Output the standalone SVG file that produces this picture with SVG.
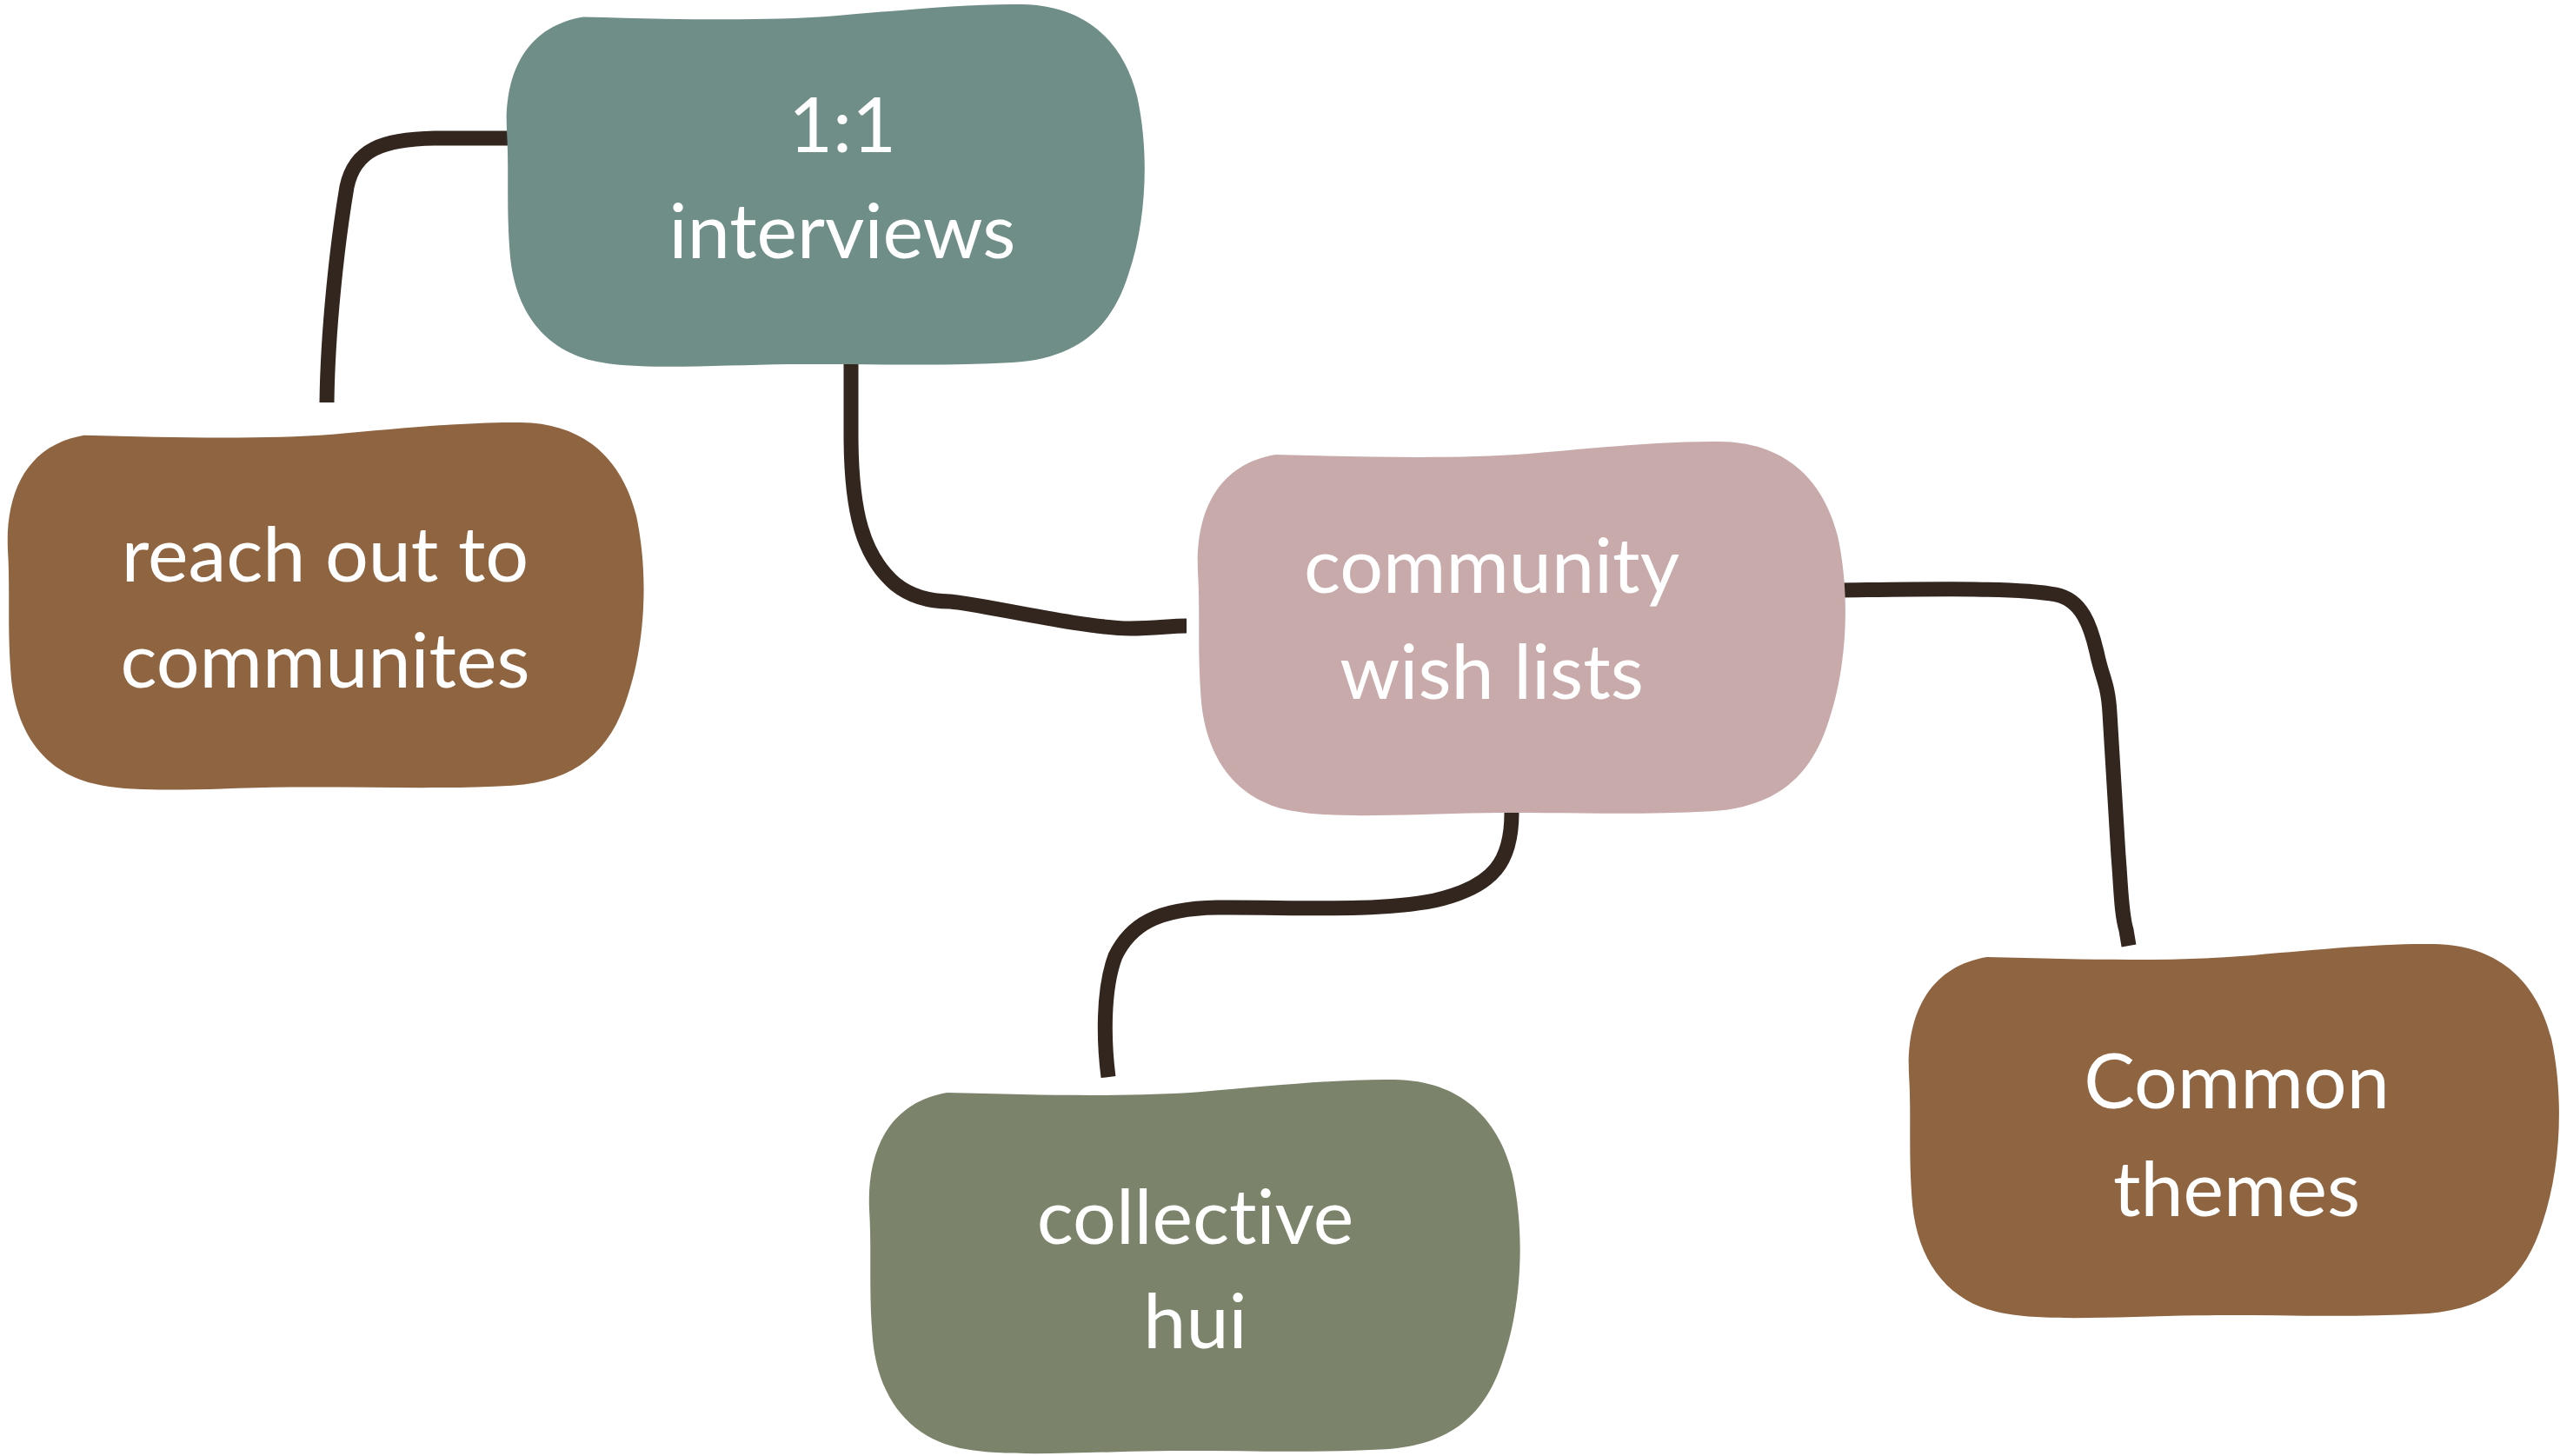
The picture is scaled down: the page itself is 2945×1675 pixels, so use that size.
<svg xmlns="http://www.w3.org/2000/svg" xmlns:xlink="http://www.w3.org/1999/xlink" width="2945" height="1675" viewBox="0 0 2945 1675">
<style>
.conn{fill:none;stroke:#33261f;stroke-width:17;stroke-linecap:butt;stroke-linejoin:round}
.lbl{font-family:Lato,"Noto Sans","Liberation Sans",sans-serif;font-size:88px;fill:#ffffff;text-anchor:middle;font-variant-ligatures:none;font-feature-settings:"liga" 0,"clig" 0}
</style>
<defs>
<path id="blob" d="M 90,16 C 200,19 300,21 380,15 C 460,8 540,0 600,1 C 680,2 720,50 735,110 C 750,180 745,260 725,320 C 705,385 665,420 590,425 C 500,430 420,426 330,427 C 250,428 160,434 112,425 C 50,415 12,370 5,300 C 0,240 4,200 1,150 C -2,80 25,27 90,16 Z"/>
</defs>
<rect width="2945" height="1675" fill="#ffffff"/>
<g id="connectors">
<path class="conn" d="M 600,159 L 500,159 C 440,160 408,172 399,215 C 388,280 377,380 376,463"/>
<path class="conn" d="M 979,415 L 979,500 C 979,590 993,640 1030,672 C 1050,688 1075,692 1093,692 C 1130,695 1240,722 1300,723 C 1330,723 1345,720 1365,720"/>
<path class="conn" d="M 1739,935 C 1739,990 1720,1020 1650,1036 C 1580,1050 1480,1043 1400,1044 C 1330,1045 1300,1065 1283,1100 C 1268,1140 1270,1200 1275,1239"/>
<path class="conn" d="M 2115,679 C 2200,678 2320,675 2365,684 C 2395,690 2405,720 2412,750 C 2418,780 2425,785 2427,820 C 2430,870 2433,920 2437,985 C 2440,1020 2440,1050 2446,1070 L 2449,1088"/>
</g>
<g id="node-interviews">
<use xlink:href="#blob" href="#blob" fill="#6f8e88" transform="translate(582,4) scale(0.988,0.972)"/>
<text class="lbl" x="969" y="175">1:1</text>
<text class="lbl" x="969" y="297">interviews</text>
</g>
<g id="node-reach">
<use xlink:href="#blob" href="#blob" fill="#8f6440" transform="translate(8,485) scale(0.985,0.985)"/>
<text class="lbl" x="374" y="669">reach out to</text>
<text class="lbl" x="374" y="791">communites</text>
</g>
<g id="node-wishlists">
<use xlink:href="#blob" href="#blob" fill="#c9aaab" transform="translate(1377,507) scale(1.003,1.003)"/>
<text class="lbl" x="1716" y="682">community</text>
<text class="lbl" x="1716" y="804">wish lists</text>
</g>
<g id="node-hui">
<use xlink:href="#blob" href="#blob" fill="#7b846a" transform="translate(999,1241) scale(1.008,1.003)"/>
<text class="lbl" x="1375" y="1431">collective</text>
<text class="lbl" x="1375" y="1551">hui</text>
</g>
<g id="node-themes">
<use xlink:href="#blob" href="#blob" fill="#8f6440" transform="translate(2195,1085) scale(1.007,1.003)"/>
<text class="lbl" x="2573" y="1275">Common</text>
<text class="lbl" x="2573" y="1399">themes</text>
</g>
</svg>
